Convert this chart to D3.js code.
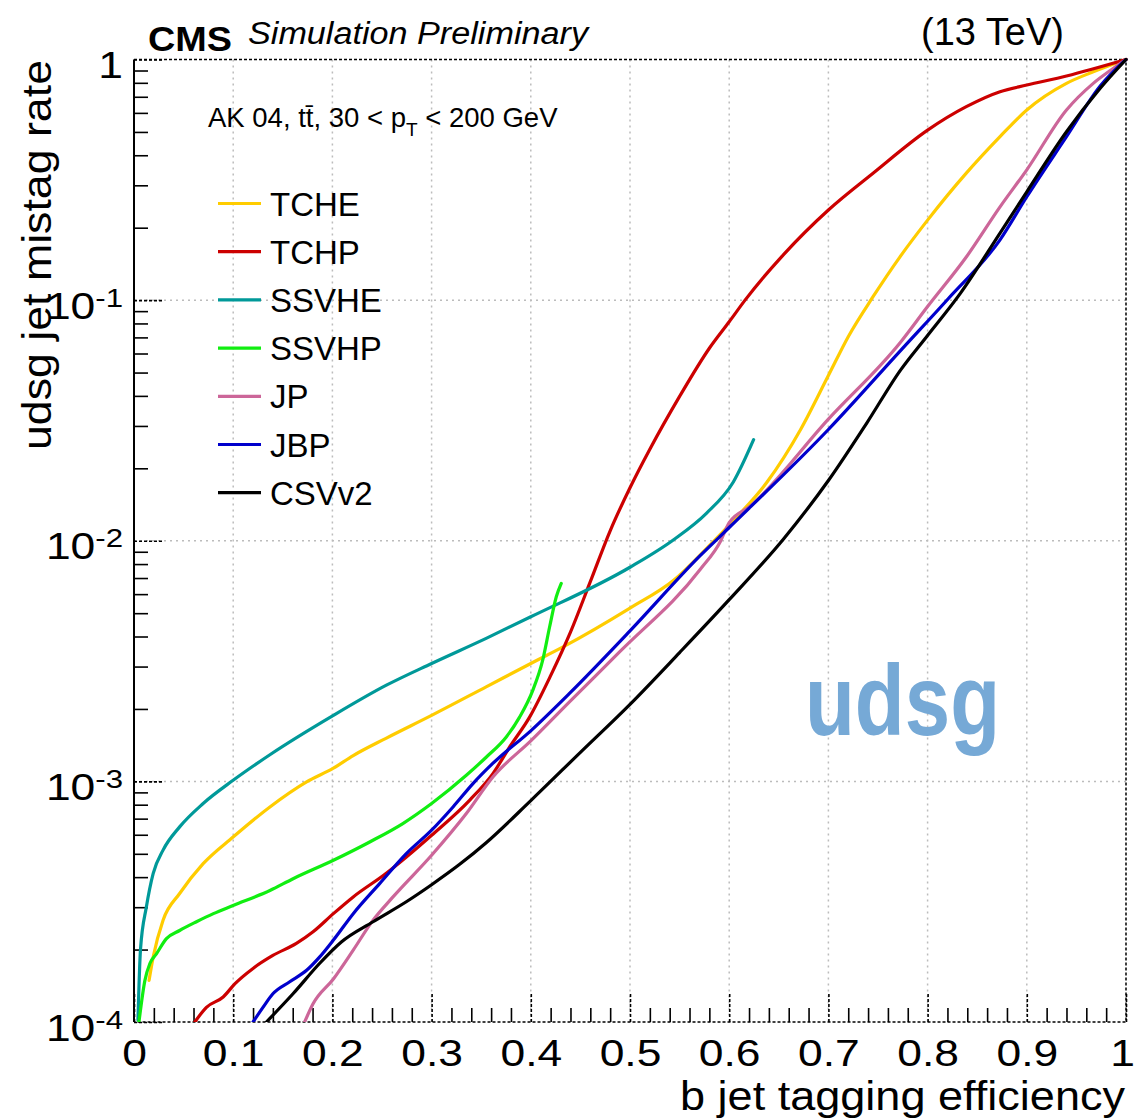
<!doctype html>

<head>
    <meta charset="utf-8">
    <title>udsg jet mistag rate vs b jet tagging efficiency</title>
    <script src="https://cdn.jsdelivr.net/npm/d3@7"></script>
    <style>
        body {
            margin: 0;
            background: #fff;
        }

        text {
            font-family: "Liberation Sans", Arial, Helvetica, sans-serif;
            fill: #000;
        }

        .grid line {
            stroke: #bcbcbc;
            stroke-width: 1.5;
            stroke-dasharray: 2, 4;
        }

        .axis line {
            stroke: #000;
            stroke-width: 1.6;
        }
    </style>
</head>

<body>
    <script>
        "use strict";

        // b-tag efficiency vs udsg mistag rate
        const tche = [[0.0152, 1.49e-4], [0.0193, 1.86e-4], [0.0293, 2.65e-4], [0.046, 3.42e-4], [0.0697, 4.55e-4],
            [0.0999, 5.87e-4], [0.137, 7.83e-4], [0.174, 9.95e-4], [0.201, 1.135e-3], [0.221, 1.28e-3], [0.254, 1.51e-3],
            [0.300, 1.88e-3], [0.355, 2.47e-3], [0.400, 3.09e-3], [0.433, 3.63e-3], [0.500, 5.25e-3], [0.544, 6.85e-3],
            [0.577, 9.27e-3], [0.604, 1.21e-2], [0.638, 1.75e-2], [0.672, 2.90e-2], [0.700, 4.86e-2], [0.720, 7.05e-2],
            [0.745, 0.1033], [0.772, 0.151], [0.800, 0.215], [0.839, 0.337], [0.873, 0.478], [0.900, 0.617],
            [0.940, 0.796], [0.967, 0.889], [1.0, 1.0]];

        const tchp = [[0.0613, 1.0e-4], [0.073, 1.15e-4], [0.0899, 1.27e-4], [0.1016, 1.44e-4], [0.120, 1.67e-4],
            [0.140, 1.89e-4], [0.1637, 2.12e-4], [0.1805, 2.37e-4], [0.201, 2.82e-4], [0.221, 3.31e-4], [0.254, 4.14e-4],
            [0.2746, 4.85e-4], [0.300, 5.97e-4], [0.3385, 8.36e-4], [0.362, 1.08e-3], [0.3787, 1.39e-3], [0.3988, 1.85e-3],
            [0.420, 2.75e-3], [0.440, 4.17e-3], [0.460, 6.76e-3], [0.480, 1.10e-2], [0.500, 1.66e-2], [0.520, 2.40e-2],
            [0.550, 3.98e-2], [0.580, 6.31e-2], [0.600, 8.13e-2], [0.616, 0.1], [0.655, 0.155], [0.700, 0.237],
            [0.745, 0.337], [0.800, 0.509], [0.839, 0.637], [0.873, 0.735], [0.900, 0.783], [0.940, 0.854], [1.0, 1.0]];

        const ssvhe = [[0.004, 1.02e-4], [0.0065, 1.99e-4], [0.0125, 3.01e-4], [0.0193, 4.14e-4], [0.0293, 5.18e-4],
            [0.046, 6.47e-4], [0.0697, 8.09e-4], [0.0999, 1.01e-3], [0.137, 1.29e-3], [0.201, 1.88e-3], [0.2544, 2.51e-3],
            [0.300, 3.09e-3], [0.355, 3.93e-3], [0.400, 4.83e-3], [0.500, 7.76e-3], [0.544, 1.01e-2], [0.577, 1.30e-2],
            [0.604, 1.75e-2], [0.6246, 2.63e-2]];

        const ssvhp = [[0.005, 1.0e-4], [0.011, 1.49e-4], [0.016, 1.75e-4], [0.0226, 1.92e-4], [0.0327, 2.22e-4],
            [0.046, 2.40e-4], [0.063, 2.61e-4], [0.080, 2.82e-4], [0.0999, 3.05e-4], [0.137, 3.52e-4], [0.1604, 3.94e-4],
            [0.201, 4.70e-4], [0.2376, 5.60e-4], [0.271, 6.68e-4], [0.300, 8.09e-4], [0.335, 1.06e-3], [0.355, 1.26e-3],
            [0.3753, 1.53e-3], [0.3887, 1.85e-3], [0.402, 2.39e-3], [0.412, 3.19e-3], [0.419, 4.39e-3], [0.4257, 5.85e-3],
            [0.4307, 6.65e-3]];

        const jp = [[0.172, 1.0e-4], [0.1805, 1.19e-4], [0.201, 1.51e-4], [0.221, 1.99e-4], [0.241, 2.65e-4],
            [0.2611, 3.31e-4], [0.300, 4.93e-4], [0.335, 7.35e-4], [0.362, 1.045e-3], [0.4005, 1.48e-3], [0.439, 2.14e-3],
            [0.4895, 3.45e-3], [0.5707, 7.59e-3], [0.591, 9.91e-3], [0.600, 1.19e-2], [0.621, 1.39e-2], [0.700, 3.20e-2],
            [0.7727, 6.68e-2], [0.800, 9.40e-2], [0.839, 0.151], [0.873, 0.244], [0.900, 0.348], [0.940, 0.617],
            [0.967, 0.796], [0.987, 0.918], [1.0, 1.0]];

        const jbp = [[0.120, 1.0e-4], [0.130, 1.15e-4], [0.140, 1.31e-4], [0.157, 1.47e-4], [0.174, 1.64e-4],
            [0.187, 1.86e-4], [0.201, 2.19e-4], [0.221, 2.82e-4], [0.2476, 3.76e-4], [0.2745, 5.01e-4], [0.300, 6.27e-4],
            [0.3216, 7.83e-4], [0.3417, 9.79e-4], [0.3619, 1.19e-3], [0.4005, 1.63e-3], [0.439, 2.32e-3], [0.500, 4.22e-3],
            [0.5707, 8.67e-3], [0.600, 1.135e-2], [0.700, 2.90e-2], [0.7727, 6.17e-2], [0.821, 0.1016],
            [0.873, 0.178], [0.900, 0.269], [0.940, 0.478], [0.974, 0.776], [1.0, 1.0]];

        const csvv2 = [[0.1335, 1.0e-4], [0.1603, 1.31e-4], [0.187, 1.75e-4], [0.209, 2.15e-4], [0.241, 2.61e-4],
            [0.2745, 3.16e-4], [0.300, 3.72e-4], [0.3283, 4.52e-4], [0.355, 5.56e-4], [0.400, 8.32e-4], [0.450, 1.32e-3],
            [0.500, 2.09e-3], [0.550, 3.43e-3], [0.600, 5.69e-3], [0.655, 1.02e-2], [0.700, 1.78e-2],
            [0.739, 3.10e-2], [0.7727, 5.12e-2], [0.799, 7.05e-2], [0.833, 0.1067], [0.873, 0.190], [0.900, 0.282],
            [0.940, 0.501], [0.974, 0.759], [1.0, 1.0]];

        const taggers = ["TCHE", "TCHP", "SSVHE", "SSVHP", "JP", "JBP", "CSVv2"];
        const curves = [tche, tchp, ssvhe, ssvhp, jp, jbp, csvv2];
        const colors = ["#ffcc00", "#cc0000", "#009999", "#11ee11", "#cc6699", "#0000cc", "#000000"];

        const xTicks = [0, 0.1, 0.2, 0.3, 0.4, 0.5, 0.6, 0.7, 0.8, 0.9, 1];
        const xTickLabels = ["0", "0.1", "0.2", "0.3", "0.4", "0.5", "0.6", "0.7", "0.8", "0.9", "1"];
        const yTicks = [1e-4, 1e-3, 1e-2, 1e-1, 1];
        const yTickExp = [-4, -3, -2, -1, 0];

        const width = 1135;
        const height = 1119;
        const margin = ({
            top: 59.5,
            right: 9,
            bottom: 97,
            left: 134,
        });

        const x = d3.scaleLinear()
            .domain([0, 1])
            .range([margin.left, width - margin.right]);

        const y = d3.scaleLog()
            .domain([1e-4, 1])
            .range([height - margin.bottom, margin.top]);

        const xMinor = d3.range(1, 50).filter(i => i % 5 !== 0).map(i => i / 50);
        const yMinor = [];
        for (let e = -4; e < 0; e++) {
            for (let m = 2; m <= 9; m++) yMinor.push(m * Math.pow(10, e));
        }

        const line = d3.line()
            .x(d => x(d[0]))
            .y(d => y(d[1]))
            .curve(d3.curveMonotoneX);

        const svg = d3.select("body").append("svg")
            .attr("width", width)
            .attr("height", height);

        svg.append("defs").append("clipPath")
            .attr("id", "plot")
            .append("rect")
            .attr("x", x(0))
            .attr("y", y(1) - 2)
            .attr("width", x(1) - x(0) + 2)
            .attr("height", y(1e-4) - y(1) + 2);

        // dotted grid
        const grid = svg.append("g").attr("class", "grid");
        grid.selectAll(".gx")
            .data(xTicks.slice(1, -1))
            .join("line")
            .attr("x1", d => x(d)).attr("x2", d => x(d))
            .attr("y1", y(1)).attr("y2", y(1e-4));
        grid.selectAll(".gy")
            .data(yTicks.slice(1, -1))
            .join("line")
            .attr("x1", x(0)).attr("x2", x(1))
            .attr("y1", d => y(d)).attr("y2", d => y(d));

        // x axis: minor then major ticks
        svg.append("g")
            .attr("class", "axis")
            .attr("transform", `translate(0,${y(1e-4)})`)
            .call(d3.axisBottom(x).tickValues(xMinor).tickSize(-14).tickFormat(""))
            .call(g => g.select(".domain").remove());

        svg.append("g")
            .attr("class", "axis")
            .attr("transform", `translate(0,${y(1e-4)})`)
            .call(d3.axisBottom(x).tickValues(xTicks).tickSize(-28).tickFormat((d, i) => xTickLabels[i]))
            .call(g => g.select(".domain").remove())
            .call(g => g.selectAll(".tick line").attr("stroke-dasharray", "3,2"))
            .call(g => g.selectAll(".tick text")
                .attr("y", 44)
                .attr("dy", null)
                .attr("font-size", 37)
                .attr("font-family", null)
                .attr("transform", d => d === 1 ? "translate(-4,0) scale(1.2,1)" : "scale(1.2,1)"));

        // y axis
        svg.append("g")
            .attr("class", "axis")
            .attr("transform", `translate(${x(0)},0)`)
            .call(d3.axisLeft(y).tickValues(yMinor).tickSize(-14).tickFormat(""))
            .call(g => g.select(".domain").remove());

        svg.append("g")
            .attr("class", "axis")
            .attr("transform", `translate(${x(0)},0)`)
            .call(d3.axisLeft(y).tickValues(yTicks).tickSize(-28).tickFormat(""))
            .call(g => g.select(".domain").remove())
            .call(g => g.selectAll(".tick line").attr("stroke-dasharray", "3,2"))
            .call(g => g.selectAll(".tick").each(function (d, i) {
                const t = d3.select(this).select("text")
                    .attr("x", null)
                    .attr("dy", null)
                    .attr("font-family", null)
                    .attr("text-anchor", "end")
                    .attr("font-size", 37)
                    .attr("transform", "translate(-11,18) scale(1.2,1)");
                const e = yTickExp[i];
                if (e === 0) {
                    t.text("1");
                } else {
                    t.append("tspan").text("10");
                    t.append("tspan").attr("dy", -12).attr("font-size", 26).text(String(e));
                }
            }));

        // frame
        svg.append("line")
            .attr("x1", x(0)).attr("x2", x(0))
            .attr("y1", y(1)).attr("y2", y(1e-4))
            .attr("stroke", "#000").attr("stroke-width", 2);
        svg.append("path")
            .attr("d", `M${x(0)},${y(1)}H${x(1)}V${y(1e-4)}H${x(0)}`)
            .attr("fill", "none")
            .attr("stroke", "#000")
            .attr("stroke-width", 1.5)
            .attr("stroke-dasharray", "3,2");

        // curves
        svg.append("g")
            .attr("clip-path", "url(#plot)")
            .selectAll("path")
            .data(curves)
            .join("path")
            .attr("fill", "none")
            .attr("stroke", (d, i) => colors[i])
            .attr("stroke-width", 3.2)
            .attr("stroke-linejoin", "round")
            .attr("stroke-linecap", "round")
            .attr("d", line);

        // legend
        const legend = svg.append("g");
        taggers.forEach((name, i) => {
            const ly = 203.5 + i * 48.2;
            legend.append("line")
                .attr("x1", 218).attr("x2", 261)
                .attr("y1", ly).attr("y2", ly)
                .attr("stroke", colors[i])
                .attr("stroke-width", 3.2);
            legend.append("text")
                .attr("x", 270)
                .attr("y", ly + 12)
                .attr("font-size", 33)
                .text(name);
        });

        // header texts
        svg.append("text")
            .attr("x", 148).attr("y", 51)
            .attr("font-size", 35)
            .attr("font-weight", "bold")
            .attr("textLength", 84)
            .attr("lengthAdjust", "spacingAndGlyphs")
            .text("CMS");
        svg.append("text")
            .attr("x", 248).attr("y", 44)
            .attr("font-size", 31)
            .attr("font-style", "italic")
            .attr("textLength", 340)
            .attr("lengthAdjust", "spacingAndGlyphs")
            .text("Simulation Preliminary");
        svg.append("text")
            .attr("x", 1064).attr("y", 45)
            .attr("text-anchor", "end")
            .attr("font-size", 38)
            .text("(13 TeV)");

        const info = svg.append("text")
            .attr("x", 208).attr("y", 127)
            .attr("font-size", 27.5);
        info.append("tspan").text("AK 04, tt\u0304, 30 < p");
        info.append("tspan").attr("dy", 9).attr("font-size", 19).text("T");
        info.append("tspan").attr("dy", -9).text(" < 200 GeV");

        // axis titles
        svg.append("text")
            .attr("x", 1125).attr("y", 1110)
            .attr("text-anchor", "end")
            .attr("font-size", 41)
            .attr("textLength", 445)
            .attr("lengthAdjust", "spacingAndGlyphs")
            .text("b jet tagging efficiency");
        svg.append("text")
            .attr("transform", `translate(51,60) rotate(-90)`)
            .attr("text-anchor", "end")
            .attr("font-size", 41)
            .attr("textLength", 390)
            .attr("lengthAdjust", "spacingAndGlyphs")
            .text("udsg jet mistag rate");

        // flavour tag
        svg.append("text")
            .attr("x", 805).attr("y", 735)
            .attr("font-family", "'Open Sans', sans-serif")
            .attr("font-weight", "bold")
            .attr("font-size", 100)
            .attr("textLength", 195)
            .attr("lengthAdjust", "spacingAndGlyphs")
            .style("fill", "#76a9d6")
            .text("udsg");
    </script>
</body>

</html>
